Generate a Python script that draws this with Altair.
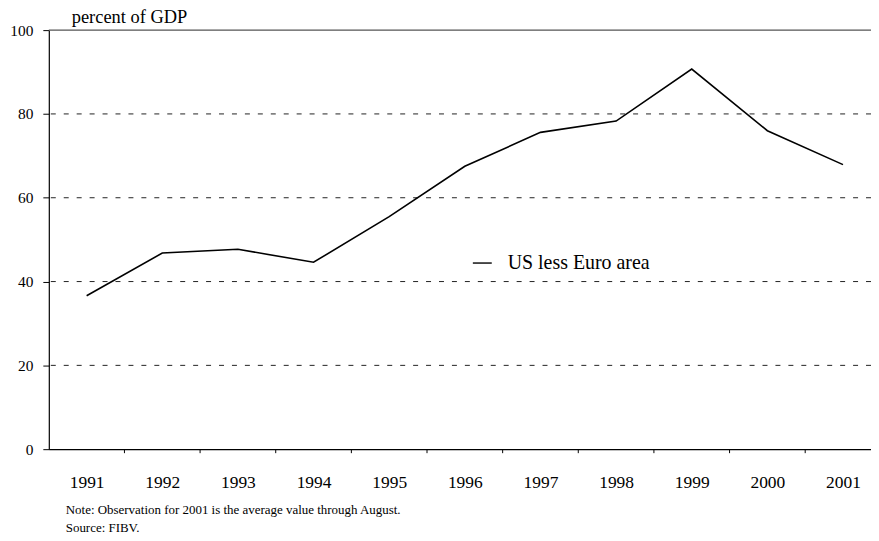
import altair as alt
import pandas as pd

# ---- data ----
years = [1991, 1992, 1993, 1994, 1995, 1996, 1997, 1998, 1999, 2000, 2001]
values = [36.6, 46.8, 47.7, 44.6, 55.5, 67.5, 75.6, 78.3, 90.7, 76.0, 67.9]
grid_values = [20, 40, 60, 80]
top_value = [100]
y_ticks = [0, 20, 40, 60, 80, 100]
band_edges = [1991.5, 1992.5, 1993.5, 1994.5, 1995.5, 1996.5, 1997.5, 1998.5, 1999.5, 2000.5]
title_text = "percent of GDP"
legend_label = "US less Euro area"
note_line = "Note: Observation for 2001 is the average value through August."
source_line = "Source: FIBV."

FONT = "Liberation Serif, Times New Roman, serif"
W, H = 826, 421

x_scale = alt.Scale(domain=[1990.5, 2001.37], nice=False, zero=False)
y_scale = alt.Scale(domain=[0, 100], nice=False)

df = pd.DataFrame({"year": years, "value": values})

line = alt.Chart(df).mark_line(color="black", strokeWidth=1.6).encode(
    x=alt.X("year:Q", scale=x_scale,
            axis=alt.Axis(values=years, format="d", ticks=False, grid=False,
                          domain=True, domainColor="black", domainWidth=1.2,
                          labelFont=FONT, labelFontSize=17.5, labelColor="black",
                          labelPadding=24, title=None)),
    y=alt.Y("value:Q", scale=y_scale,
            axis=alt.Axis(values=y_ticks, grid=False, ticks=True, tickSize=6,
                          tickColor="black", domainColor="black", domainWidth=1.2,
                          labelFont=FONT, labelFontSize=15.5, labelColor="black",
                          labelPadding=10, title=None)),
)

grid = alt.Chart(pd.DataFrame({"g": grid_values})).mark_rule(
    color="#222", strokeWidth=1, strokeDash=[5, 8]
).encode(y=alt.Y("g:Q", scale=y_scale))

top = alt.Chart(pd.DataFrame({"g": top_value})).mark_rule(
    color="#555", strokeWidth=1.2
).encode(y=alt.Y("g:Q", scale=y_scale))

band_ticks = alt.Chart(pd.DataFrame({"e": band_edges})).mark_rule(
    color="black", strokeWidth=1
).encode(x=alt.X("e:Q", scale=x_scale), y=alt.value(H), y2=alt.value(H + 4))

title = alt.Chart(pd.DataFrame({"t": [title_text]})).mark_text(
    align="left", baseline="alphabetic", font=FONT, fontSize=18.5, color="black"
).encode(x=alt.value(23), y=alt.value(-7), text="t:N")

legend_line = alt.Chart(pd.DataFrame({"l": [legend_label]})).mark_rule(
    color="black", strokeWidth=1.4
).encode(x=alt.value(426), x2=alt.value(445), y=alt.value(234))

legend_text = alt.Chart(pd.DataFrame({"l": [legend_label]})).mark_text(
    align="left", baseline="middle", font=FONT, fontSize=20, color="black"
).encode(x=alt.value(461), y=alt.value(234), text="l:N")

note = alt.Chart(pd.DataFrame({"t": [note_line]})).mark_text(
    align="left", baseline="alphabetic", font=FONT, fontSize=13, color="black"
).encode(x=alt.value(17), y=alt.value(486), text="t:N")

source = alt.Chart(pd.DataFrame({"t": [source_line]})).mark_text(
    align="left", baseline="alphabetic", font=FONT, fontSize=13, color="black"
).encode(x=alt.value(17), y=alt.value(504), text="t:N")

chart = alt.layer(
    grid, top, band_ticks, line, title, legend_line, legend_text, note, source
).properties(
    width=W, height=H,
    padding={"left": 41, "top": 21, "right": 0, "bottom": 87},
    autosize="none",
    background="white",
).configure_view(stroke=None)

chart.save("out.html", embed_options={"renderer": "svg", "actions": False})
